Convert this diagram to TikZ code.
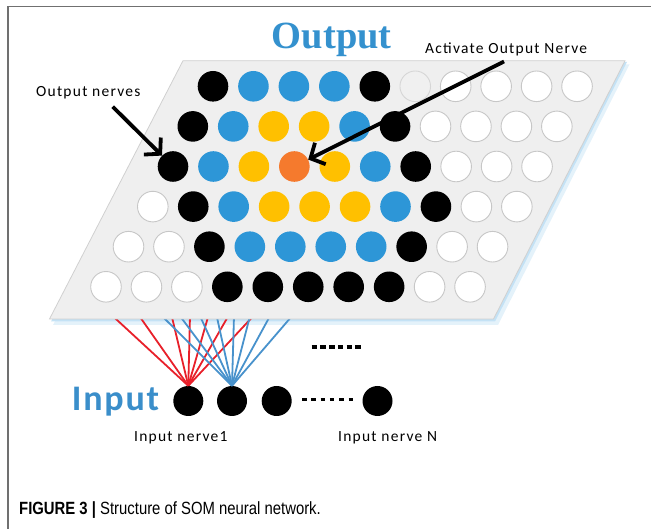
\documentclass[tikz,border=0pt]{standalone}
\usepackage{fontspec}
\setmainfont{Carlito}
\newfontfamily\labelfont[LetterSpace=8]{Carlito}
\newfontfamily\bigsans[LetterSpace=5]{Carlito}
\newfontfamily\titlefont{Liberation Serif}
\newfontfamily\capfont[FakeStretch=0.84]{Liberation Sans}
\usetikzlibrary{arrows.meta}

\definecolor{nblue}{RGB}{45,150,215}
\definecolor{nyellow}{RGB}{255,192,0}
\definecolor{norange}{RGB}{245,122,45}
\definecolor{plategray}{RGB}{239,239,239}
\definecolor{plateedge}{RGB}{208,208,208}
\definecolor{glowblue}{RGB}{196,226,245}
\definecolor{titleblue}{RGB}{52,145,206}
\definecolor{inblue}{RGB}{58,142,202}
\definecolor{wirered}{RGB}{232,32,42}
\definecolor{wireblue}{RGB}{72,146,204}
\definecolor{framegray}{RGB}{112,112,112}

\tikzset{
  neuron/.style={circle, inner sep=0pt, minimum size=30.6pt},
  cellK/.style={neuron, fill=black},
  cellB/.style={neuron, fill=nblue},
  cellY/.style={neuron, fill=nyellow},
  cellO/.style={neuron, fill=norange},
  cellW/.style={neuron, fill=white, draw=black!22, line width=0.9pt},
  cellG/.style={neuron, fill=black!6, draw=black!16, line width=0.9pt},
  innode/.style={circle, inner sep=0pt, minimum size=30pt, fill=black},
  label/.style={anchor=base west, inner sep=0pt, font=\labelfont\fontsize{15.5}{18}\selectfont},
  pointer/.style={line width=3.8pt, -{Straight Barb[length=11pt,width=24pt]}},
  wireR/.style={wirered, line width=1.8pt},
  wireB/.style={wireblue, line width=1.8pt},
}

\begin{document}
\begin{tikzpicture}[x=1pt,y=-1pt]
\useasboundingbox (0,0) rectangle (651,529);

% figure frame
\draw[framegray, line width=1.3pt] (8,529) -- (8,6.3) -- (651,6.3);

% input layer
\node[innode] (i1) at (188.3,401) {};
\node[innode] (i2) at (232,401) {};
\node[innode] (i3) at (276.7,401) {};
\node[innode] (iN) at (377.5,401) {};

% plate glow
\fill[glowblue, opacity=0.45] (187,64.5) -- (629.5,64.5) -- (498,325) -- (53,325) -- cycle;
\fill[glowblue] (185,62) -- (627,62) -- (495,321.5) -- (51,321.5) -- cycle;

% weights from the grid to the first two inputs
\foreach \x [count=\k] in {112.7,139.3,171.7,190,208.3,228.3,253.3} {
  \coordinate (r\k) at (\x,316);
  \draw[wireR] (r\k) -- (i1.north);
}
\foreach \x [count=\k] in {162,180,200,216.7,234,250,270,292} {
  \coordinate (b\k) at (\x,316);
  \draw[wireB] (b\k) -- (i2.north);
}

% output plate
\filldraw[fill=plategray, draw=plateedge, line width=0.8pt]
  (183,60.7) -- (625,60.7) -- (493.5,319) -- (49.5,319) -- cycle;

% output neurons
\foreach \row/\xo/\codes in {
  1/213/{K,B,B,B,K,G,W,W,W,W},
  2/192.8/{K,B,Y,Y,B,K,W,W,W,W},
  3/173/{K,B,Y,O,Y,B,K,W,W,W},
  4/152.8/{W,K,B,Y,Y,Y,B,K,W,W},
  5/128.5/{W,W,K,B,B,B,B,K,W,W},
  6/106/{W,W,W,K,K,K,K,K,W,W}} {
  \foreach \c [count=\j] in \codes {
    \node[cell\c] (c\row-\j) at ({\xo+40.45*(\j-1)}, {86.3+40.1*(\row-1)}) {};
  }
}

% ellipses
\coordinate (d1) at (311.7,346.7);
\coordinate (d2) at (362,346.7);
\draw[line width=4pt, dash pattern=on 5.5pt off 3.2pt] (d1) -- (d2);
\coordinate (e1) at (302,400);
\coordinate (e2) at (354,400);
\draw[line width=3pt, dash pattern=on 4.5pt off 4.8pt] (e1) -- (e2);

% texts
\node[anchor=base west, inner sep=0pt, text=titleblue,
      font=\titlefont\bfseries\fontsize{38.5}{40}\selectfont] (tOut) at (271.7,48.3) {Output};
\node[anchor=base west, inner sep=0pt, text=inblue,
      font=\bigsans\bfseries\fontsize{36}{40}\selectfont] (tIn) at (71.7,410) {Input};
\node[label] (lOut) at (36,96.7) {Output nerves};
\node[label] (lAct) at (425,53.3) {Activate Output Nerve};
\node[label] (lIn1) at (134,441.7) {Input nerve1};
\node[label] (lInN) at (338,441.7) {Input nerve N};

% pointers
\coordinate (s1) at (112.7,106.7);
\coordinate (s2) at (504,61.5);
\draw[pointer] (s1) -- (c3-1);
\draw[pointer] (s2) -- (c3-4);

% caption
\node[anchor=base west, inner sep=0pt, font=\capfont\fontsize{17.7}{20}\selectfont] (cap)
  at (19,514) {\textbf{FIGURE 3 |} Structure of SOM neural network.};
\end{tikzpicture}
\end{document}
